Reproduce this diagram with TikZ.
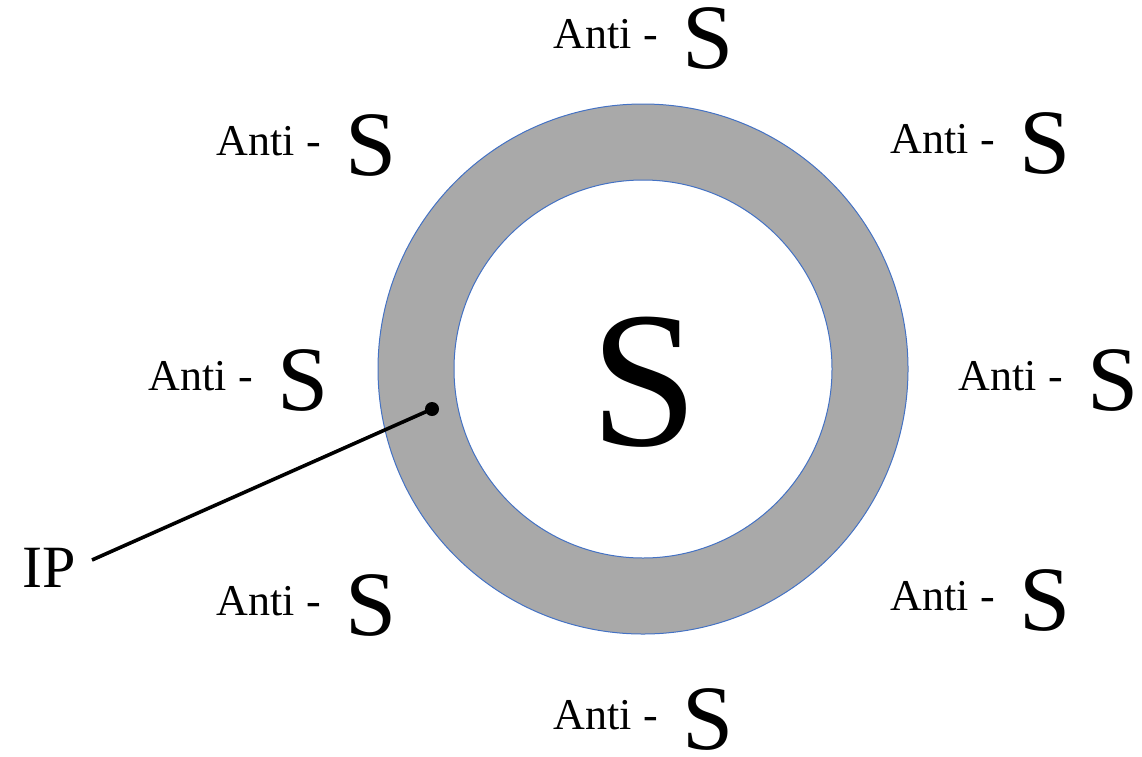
\documentclass[tikz,border=0pt]{standalone}
\usepackage{fontspec}
\setmainfont{Liberation Serif}
\usepackage{xcolor}
\usepackage{tikz}
\usetikzlibrary{positioning}

\definecolor{ringgray}{HTML}{A9A9A9}
\definecolor{ringblue}{HTML}{4472C4}

\newcommand{\antiS}{{\fontsize{22bp}{26bp}\selectfont Anti -}\hspace{12.5bp}\raisebox{-10bp}{\fontsize{46bp}{50bp}\selectfont S}}

\begin{document}
\begin{tikzpicture}[x=0.5bp, y=-0.5bp, thick]
    \useasboundingbox (0,0) rectangle (1142,756);

    % The ring (IP) around the core
    \fill[ringgray, even odd rule] (643,369) circle[radius=265] (643,369) circle[radius=189];
    \draw[ringblue, line width=0.5bp] (643,369) circle[radius=265];
    \draw[ringblue, line width=0.5bp] (643,369) circle[radius=189];

    % Core
    \node[anchor=base, inner sep=0pt, font=\fontsize{97bp}{100bp}\selectfont] (core) at (644,445) {S};

    % Anti-S labels around the ring
    \node[anchor=base west, inner sep=0pt] (aTop) at (553,48) {\antiS};
    \node[anchor=base west, inner sep=0pt] (aTL) at (216,155) {\antiS};
    \node[anchor=base west, inner sep=0pt] (aTR) at (890,153) {\antiS};
    \node[anchor=base west, inner sep=0pt] (aL) at (148,390) {\antiS};
    \node[anchor=base west, inner sep=0pt] (aR) at (958,390) {\antiS};
    \node[anchor=base west, inner sep=0pt] (aBL) at (216,615) {\antiS};
    \node[anchor=base west, inner sep=0pt] (aBR) at (890,610) {\antiS};
    \node[anchor=base west, inner sep=0pt] (aBot) at (553,729) {\antiS};

    % IP pointer
    \node[anchor=base west, inner sep=0pt, font=\fontsize{30bp}{34bp}\selectfont] (ip) at (22,587) {IP};
    \node[circle, fill=black, inner sep=0pt, minimum size=7bp] (dot) at (432,409) {};
    \coordinate (tail) at (92,560);
    \draw[line width=1.8bp] (tail) -- (dot.center);

\end{tikzpicture}
\end{document}
